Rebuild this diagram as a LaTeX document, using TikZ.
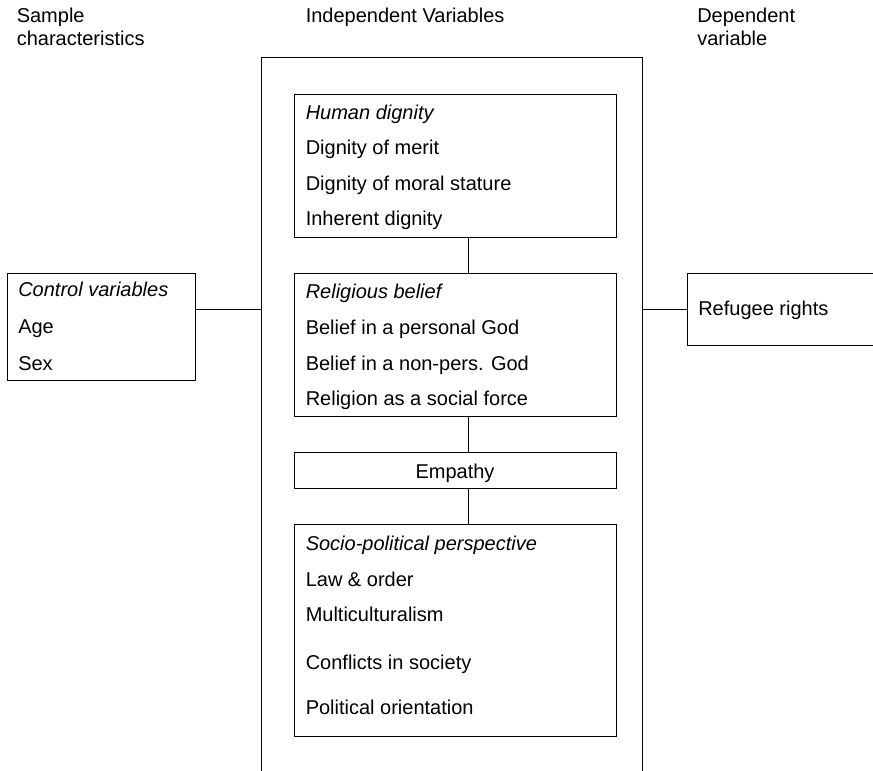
\documentclass[tikz,border=0pt]{standalone}
\usepackage{fontspec}
\setmainfont{Liberation Sans}
\begin{document}
\begin{tikzpicture}[x=0.75pt,y=-0.75pt,
  box/.style={draw=black, line width=0.75pt, rectangle, inner sep=0pt, anchor=north west},
  lbl/.style={inner sep=0pt, anchor=base west, font=\fontsize{15}{17}\selectfont},
  clbl/.style={inner sep=0pt, anchor=base, font=\fontsize{15}{17}\selectfont},
  link/.style={draw=black, line width=0.75pt}]
\useasboundingbox (0,0) rectangle (873,770);
\clip (0,0) rectangle (873,770);

% headers
\node[lbl] (h1a) at (16.5,22.7) {Sample};
\node[lbl] (h1b) at (16.5,46) {characteristics};
\node[lbl] (h2) at (305.5,22.7) {Independent Variables};
\node[lbl] (h3a) at (697,22.7) {Dependent};
\node[lbl] (h3b) at (697,46) {variable};

% outer box (bottom runs off the picture)
\node[box, minimum width=380.7*0.75pt, minimum height=740*0.75pt] (iv) at (261,57) {};

% human dignity
\node[box, minimum width=321.7*0.75pt, minimum height=142.7*0.75pt] (hd) at (294,94) {};
\node[lbl] (hd0) at (305.5,120) {\itshape Human dignity};
\node[lbl] (hd1) at (305.5,155) {Dignity of merit};
\node[lbl] (hd2) at (305.5,190) {Dignity of moral stature};
\node[lbl] (hd3) at (305.5,225) {Inherent dignity};

% religious belief
\node[box, minimum width=321.7*0.75pt, minimum height=143*0.75pt] (rb) at (294,273) {};
\node[lbl] (rb0) at (305.5,298) {\itshape Religious belief};
\node[lbl] (rb1) at (305.5,334) {Belief in a personal God};
\node[lbl] (rb2) at (305.5,370) {Belief in a non-pers. God};
\node[lbl] (rb3) at (305.5,405.7) {Religion as a social force};

% empathy
\node[box, minimum width=321.7*0.75pt, minimum height=36*0.75pt] (em) at (294,452.3) {};
\node[clbl] (em0) at (455,478) {Empathy};

% socio-political
\node[box, minimum width=321.7*0.75pt, minimum height=212*0.75pt] (sp) at (294,524) {};
\node[lbl] (sp0) at (305.5,550) {\itshape Socio-political perspective};
\node[lbl] (sp1) at (305.5,586) {Law \& order};
\node[lbl] (sp2) at (305.5,621.7) {Multiculturalism};
\node[lbl] (sp3) at (305.5,669) {Conflicts in society};
\node[lbl] (sp4) at (305.5,714) {Political orientation};

% control variables
\node[box, minimum width=188.3*0.75pt, minimum height=106.7*0.75pt] (cv) at (6.7,273.3) {};
\node[lbl] (cv0) at (18,296.7) {\itshape Control variables};
\node[lbl] (cv1) at (18,333) {Age};
\node[lbl] (cv2) at (18,370) {Sex};

% refugee rights (right edge runs off the picture)
\node[box, minimum width=200*0.75pt, minimum height=71.7*0.75pt] (rr) at (687,273.3) {};
\node[lbl] (rr0) at (698,315) {Refugee rights};

% connectors
\coordinate (cx) at (468,0);
\draw[link] (hd.south -| cx) -- (rb.north -| cx);
\draw[link] (rb.south -| cx) -- (em.north -| cx);
\draw[link] (em.south -| cx) -- (sp.north -| cx);
\draw[link] (cv.east |- rr.west) -- (iv.west |- rr.west);
\draw[link] (iv.east |- rr.west) -- (rr.west);
\end{tikzpicture}
\end{document}
